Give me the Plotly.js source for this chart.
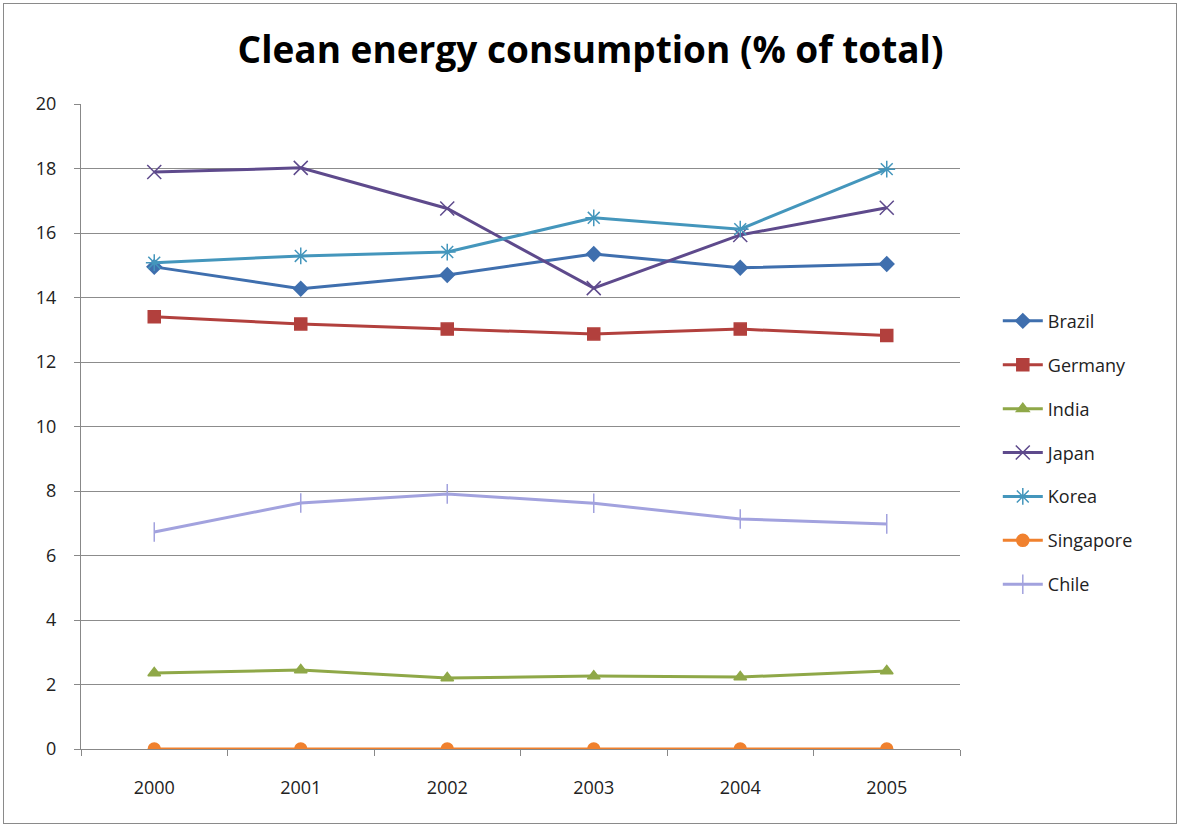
<!DOCTYPE html>
<html>
<head>
<meta charset="utf-8">
<script src="https://cdn.plot.ly/plotly-3.0.1.min.js"></script>
<style>
html,body{margin:0;padding:0;background:#fff;}
#chart{position:absolute;left:0;top:0;width:1181px;height:827px;}
#frame{position:absolute;left:3px;top:3px;width:1172px;height:819px;border:1px solid #8a8a8a;pointer-events:none;}
</style>
</head>
<body>
<div id="chart"></div>
<div id="frame"></div>
<script>
const years = ['2000','2001','2002','2003','2004','2005'];
const seriesNames = ['Brazil','Germany','India','Japan','Korea','Singapore','Chile'];
const brazil    = [14.95, 14.27, 14.70, 15.35, 14.92, 15.04];
const germany   = [13.40, 13.18, 13.02, 12.87, 13.02, 12.82];
const india     = [2.36, 2.45, 2.20, 2.26, 2.23, 2.42];
const japan     = [17.89, 18.02, 16.76, 14.29, 15.94, 16.78];
const korea     = [15.08, 15.29, 15.41, 16.47, 16.12, 17.98];
const singapore = [0, 0, 0, 0, 0, 0];
const chile     = [6.73, 7.63, 7.91, 7.62, 7.13, 6.98];
const yTicks = [0,2,4,6,8,10,12,14,16,18,20];

const values = [brazil, germany, india, japan, korea, singapore, chile];
const styles = [
  {color:'#3F6FAE', symbol:'diamond', size:11, mline:'#3F6FAE'},
  {color:'#B2403D', symbol:'square', size:12, mline:'#B2403D'},
  {color:'#8FA848', symbol:'triangle-up', size:11, mline:'#8FA848'},
  {color:'#5E4A8C', symbol:'x-thin-open', size:14, mline:'#9E8FC6'},
  {color:'#4496BC', symbol:'asterisk-open', size:14, mline:'#6FB4D8'},
  {color:'#F0812E', symbol:'circle', size:12, mline:'#F0812E'},
  {color:'#A2A2DE', symbol:'line-ns-open', size:14, mline:'#8888CC'}
];

const traces = seriesNames.map((n,i)=>({
  type:'scatter', mode:'lines+markers', name:n, legendgroup:'g'+i,
  x: years, y: values[i],
  line:{color:styles[i].color, width:3},
  marker:{symbol:styles[i].symbol, size:styles[i].size, color:styles[i].color,
          line:{color:styles[i].mline, width:1.5}}
}));

const layout = {
  width:1181, height:827,
  margin:{l:81, r:221, t:104, b:78},
  paper_bgcolor:'#ffffff', plot_bgcolor:'#ffffff',
  font:{family:'"Open Sans", "Liberation Sans", sans-serif', color:'#000'},
  title:{text:'<b>Clean energy consumption (% of total)</b>', x:0.5, xanchor:'center', xref:'container',
         y:0.955, yref:'container', font:{size:37, family:'"Open Sans", sans-serif', color:'#000'}},
  xaxis:{type:'category', tickson:'boundaries', ticks:'outside', ticklen:6, tickcolor:'#888',
         showgrid:false, showline:true, linecolor:'#888', linewidth:1, ticklabelstandoff:22,
         tickfont:{size:18, color:'#222'}, range:[-0.5,5.5], zeroline:false},
  yaxis:{range:[0,20], tickvals:yTicks, ticktext:yTicks.map(String), ticks:'outside', ticklen:6, tickcolor:'#888',
         showgrid:true, gridcolor:'#8c8c8c', gridwidth:1, showline:true, linecolor:'#888', ticklabelstandoff:14,
         zeroline:false, tickfont:{size:18, color:'#222'}},
  legend:{x:1.043, xanchor:'left', y:0.692, yanchor:'top', font:{size:18, color:'#222'}, tracegroupgap:17.5,
          itemwidth:40, bgcolor:'rgba(0,0,0,0)'},
  showlegend:true
};

Plotly.newPlot('chart', traces, layout, {displayModeBar:false, staticPlot:true});
</script>
</body>
</html>
